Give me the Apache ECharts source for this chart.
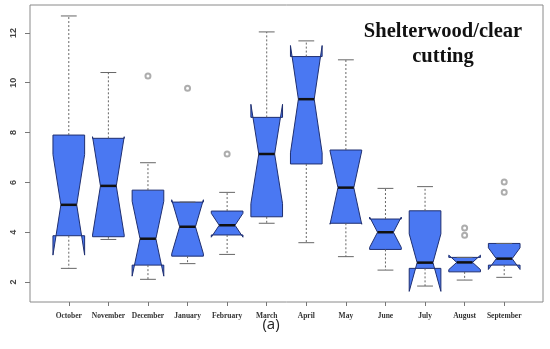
<!DOCTYPE html>
<html>
<head>
<meta charset="utf-8">
<script src="https://cdn.jsdelivr.net/npm/echarts@6/dist/echarts.min.js"></script>
<style>html,body{margin:0;padding:0;background:#fff}#c{width:550px;height:349px}</style>
</head>
<body>
<div id="c"></div>
<script>
var months = ['October','November','December','January','February','March','April','May','June','July','August','September'];
var whiskerLow  = [2.55, 3.71, 2.11, 2.74, 3.11, 4.36, 3.58, 3.02, 2.48, 1.84, 2.08, 2.19];
var q1          = [3.86, 3.82, 2.68, 3.04, 3.89, 4.62, 6.74, 4.36, 3.31, 2.55, 2.41, 2.68];
var median      = [5.10, 5.86, 3.74, 4.22, 4.28, 7.14, 9.34, 5.79, 4.00, 2.78, 2.79, 2.94];
var q3          = [7.90, 7.77, 5.69, 5.21, 4.85, 8.61, 11.05, 7.30, 4.53, 4.86, 2.99, 3.55];
var whiskerHigh = [12.68, 10.41, 6.79, 5.21, 5.60, 12.04, 11.68, 10.92, 5.76, 5.83, 2.99, 3.55];
var sampleSize  = [10, 10, 10, 10, 10, 10, 10, 10, 10, 10, 10, 10];
var outlierMonth = [3, 4, 5, 11, 11, 12, 12];
var outlierValue = [10.27, 9.78, 7.14, 4.17, 3.88, 6.02, 5.60];
var yTicks = [2, 4, 6, 8, 10, 12];
var xTicks = [1, 2, 3, 4, 5, 6, 7, 8, 9, 10, 11, 12];
var titleLines = ['Shelterwood/clear', 'cutting'];
var caption = '(a)';

var boxData = months.map(function (m, i) {
  var half = 1.58 * (q3[i] - q1[i]) / Math.sqrt(sampleSize[i]);
  return [i + 1, whiskerLow[i], q1[i], median[i], q3[i], whiskerHigh[i], median[i] - half, median[i] + half];
});
var outlierData = outlierMonth.map(function (m, i) { return [m, outlierValue[i]]; });

var chart = echarts.init(document.getElementById('c'), null, {renderer: 'canvas'});
var lineCol = '#666';
chart.setOption({
  animation: false,
  grid: {left: 30, right: 7, top: 5, bottom: 47, show: true, borderColor: '#8a8a8a', borderWidth: 1},
  xAxis: {
    type: 'value', min: 0.02, max: 12.98,
    splitLine: {show: false},
    axisLine: {show: false},
    axisTick: {show: true, customValues: xTicks, length: 4, inside: false, lineStyle: {color: '#777'}},
    axisLabel: {
      customValues: xTicks, margin: 10,
      formatter: function (v) { return months[Math.round(v) - 1] || ''; },
      fontFamily: 'Liberation Serif', fontWeight: 'bold', fontSize: 7.5, color: '#333'
    }
  },
  yAxis: {
    type: 'value', min: 1.2, max: 13.12,
    splitLine: {show: false},
    axisLine: {show: false},
    axisTick: {show: true, customValues: yTicks, length: 5, lineStyle: {color: '#777'}},
    axisLabel: {
      customValues: yTicks, rotate: 90, margin: 12,
      fontFamily: 'Liberation Sans', fontWeight: 'bold', fontSize: 9, color: '#444',
      align: 'center', verticalAlign: 'bottom'
    }
  },
  series: [{
    type: 'custom',
    data: boxData,
    renderItem: function (params, api) {
      var x = api.value(0);
      var w = 0.4, nw = 0.2;
      function P(dx, v) { return api.coord([x + dx, v]); }
      var lo = api.value(1), a = api.value(2), md = api.value(3), b = api.value(4), hi = api.value(5), nl = api.value(6), nu = api.value(7);
      var poly = [P(-w, a), P(-w, nl), P(-nw, md), P(-w, nu), P(-w, b), P(w, b), P(w, nu), P(nw, md), P(w, nl), P(w, a)];
      var dash = {stroke: lineCol, lineWidth: 1, lineDash: [2, 2]};
      var solid = {stroke: lineCol, lineWidth: 1};
      function seg(p1, p2, st) {
        return {type: 'line', shape: {x1: p1[0], y1: p1[1], x2: p2[0], y2: p2[1]}, style: st};
      }
      return {
        type: 'group',
        children: [
          {type: 'polygon', shape: {points: poly}, style: {fill: '#4a78f2', stroke: '#1f2f70', lineWidth: 1}},
          seg(P(0, b), P(0, hi), dash),
          seg(P(0, a), P(0, lo), dash),
          seg(P(-nw, hi), P(nw, hi), solid),
          seg(P(-nw, lo), P(nw, lo), solid),
          seg(P(-nw, md), P(nw, md), {stroke: '#111', lineWidth: 2.5})
        ]
      };
    }
  }, {
    type: 'scatter',
    data: outlierData,
    symbol: 'emptyCircle',
    symbolSize: 5,
    itemStyle: {color: '#999', borderColor: '#999', borderWidth: 0.8}
  }],
  graphic: [
    {type: 'text', x: 443, y: 32, style: {text: titleLines[0], font: 'bold 20.5px "Liberation Serif"', fill: '#111', align: 'center', verticalAlign: 'middle'}},
    {type: 'text', x: 443, y: 57, style: {text: titleLines[1], font: 'bold 20.5px "Liberation Serif"', fill: '#111', align: 'center', verticalAlign: 'middle'}},
    {type: 'text', x: 271, y: 325, style: {text: caption, font: '15px "Open Sans"', fill: '#222', align: 'center', verticalAlign: 'middle'}}
  ]
});
</script>
</body>
</html>
